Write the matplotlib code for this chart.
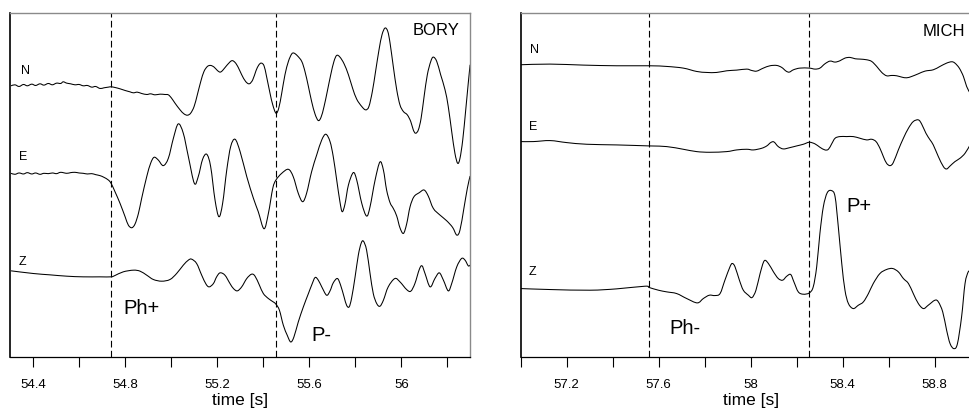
import numpy as np
import matplotlib
matplotlib.use('Agg')
import matplotlib.pyplot as plt
from matplotlib.path import Path
from matplotlib.patches import PathPatch
from matplotlib.ticker import MultipleLocator, FuncFormatter

plt.rcParams['font.family'] = ['Liberation Sans', 'DejaVu Sans']

######################################################################
## BORY station, three components (time [s], amplitude [counts])
boryNTime = [54.303, 54.320, 54.338, 54.357, 54.374, 54.393, 54.410, 54.429, 54.446, 54.465,
             54.483, 54.501, 54.519, 54.530, 54.545, 54.562, 54.581, 54.599, 54.617, 54.635,
             54.654, 54.671, 54.690, 54.707, 54.726, 54.738, 54.755, 54.777, 54.799, 54.820,
             54.835, 54.852, 54.871, 54.893, 54.910, 54.929, 54.951, 54.972, 54.987,
             55.001, 55.016, 55.038, 55.055, 55.070, 55.084, 55.099, 55.113, 55.128, 55.142,
             55.157, 55.171, 55.186, 55.200, 55.212, 55.223, 55.241, 55.262, 55.277, 55.291,
             55.306, 55.323, 55.339, 55.354, 55.368, 55.380, 55.391, 55.403, 55.414, 55.429,
             55.441, 55.455, 55.467, 55.480, 55.494, 55.509, 55.523, 55.533, 55.548, 55.567,
             55.581, 55.596, 55.610, 55.625, 55.639, 55.651, 55.664, 55.678, 55.693, 55.707,
             55.719, 55.733, 55.751, 55.770, 55.788, 55.806, 55.828, 55.845, 55.859, 55.874,
             55.888, 55.903, 55.916, 55.929, 55.941, 55.951, 55.965, 55.980, 55.994, 56.009,
             56.026, 56.041, 56.052, 56.062, 56.074, 56.086, 56.099, 56.113, 56.128, 56.139,
             56.154, 56.171, 56.190, 56.204, 56.219, 56.233, 56.245, 56.255, 56.267, 56.280,
             56.291, 56.299]
boryNAmp = [0, 3, -2, 4, 0, 5, 1, 6, 2, 7,
            3, 8, 7, 12, 8, 6, 3, 4, 0, 1,
            -4, -2, -8, -6, -4, -3, -5, -9, -14, -18,
            -21, -19, -23, -26, -24, -27, -25, -26, -27,
            -37, -52, -72, -84, -88, -82, -62, -27, 13, 43,
            58, 61, 56, 46, 41, 46, 61, 75, 70, 55,
            33, 13, 6, 18, 45, 62, 68, 60, 28, -22,
            -57, -82, -67, -22, 33, 73, 95, 98, 90, 73,
            43, -2, -47, -85, -104, -94, -62, -17, 33, 73,
            91, 86, 66, 33, -7, -40, -62, -72, -62, -17,
            43, 108, 153, 173, 163, 128, 58, -12, -57, -77,
            -87, -107, -132, -142, -132, -97, -32, 33, 73, 86,
            73, 33, -12, -62, -137, -202, -232, -217, -162, -72,
            8, 63]

boryETime = [54.303, 54.320, 54.338, 54.357, 54.374, 54.393, 54.410, 54.429, 54.446, 54.465,
             54.483, 54.501, 54.519, 54.545, 54.562, 54.581, 54.599, 54.617, 54.635, 54.654,
             54.671, 54.690, 54.707, 54.726, 54.738, 54.755, 54.777, 54.799, 54.813, 54.828,
             54.842, 54.857, 54.871, 54.893, 54.910, 54.925, 54.943, 54.965, 54.987, 55.009,
             55.030, 55.052, 55.074, 55.100, 55.117, 55.136, 55.154, 55.171, 55.190, 55.207,
             55.223, 55.241, 55.258, 55.277, 55.299, 55.328, 55.357, 55.378, 55.403, 55.422,
             55.441, 55.455, 55.480, 55.509, 55.530, 55.552, 55.571, 55.588, 55.610, 55.632,
             55.654, 55.672, 55.690, 55.704, 55.719, 55.733, 55.743, 55.755, 55.770, 55.791,
             55.806, 55.828, 55.849, 55.864, 55.886, 55.907, 55.922, 55.936, 55.951, 55.965,
             55.980, 55.994, 56.009, 56.023, 56.038, 56.055, 56.078, 56.099, 56.117, 56.139,
             56.168, 56.197, 56.223, 56.241, 56.255, 56.272, 56.287, 56.299]
boryEAmp = [0, -3, 1, -2, 2, -2, 1, -3, 0, -1,
            1, -1, 3, 0, 2, 3, 1, 0, -2, -1,
            -4, -7, -12, -20, -30, -55, -90, -130, -155, -163,
            -152, -120, -75, -10, 30, 48, 40, 23, 45, 105,
            148, 120, 50, -30, -10, 42, 57, 20, -80, -130,
            -90, 10, 80, 102, 65, -10, -75, -115, -166, -120,
            -45, -20, 0, 12, -10, -60, -85, -60, 5, 55,
            100, 117, 95, 50, -20, -85, -115, -92, -35, 2,
            -20, -90, -128, -100, -20, 34, 10, -50, -88, -105,
            -128, -163, -180, -152, -100, -70, -58, -50, -68, -105,
            -125, -142, -162, -185, -170, -105, -45, -8]

boryZTime = [54.303, 54.400, 54.472, 54.545, 54.617, 54.690, 54.738, 54.755, 54.791, 54.835,
             54.864, 54.893, 54.922, 54.958, 54.994, 55.023, 55.052, 55.074, 55.088, 55.110,
             55.132, 55.151, 55.165, 55.183, 55.197, 55.212, 55.233, 55.255, 55.270, 55.287,
             55.306, 55.328, 55.349, 55.364, 55.383, 55.400, 55.422, 55.443, 55.455, 55.470,
             55.487, 55.504, 55.519, 55.533, 55.552, 55.574, 55.596, 55.610, 55.625, 55.639,
             55.654, 55.675, 55.690, 55.704, 55.722, 55.736, 55.751, 55.762, 55.773, 55.784,
             55.799, 55.813, 55.825, 55.835, 55.849, 55.864, 55.878, 55.893, 55.907, 55.922,
             55.943, 55.972, 55.994, 56.023, 56.041, 56.059, 56.078, 56.090, 56.103, 56.125,
             56.146, 56.165, 56.183, 56.204, 56.219, 56.241, 56.262, 56.277, 56.291, 56.299]
boryZAmp = [0, -8, -12, -16, -18, -18, -18, -14, -3, 2,
            -1, -13, -26, -31, -26, -8, 17, 32, 35, 22,
            -13, -40, -48, -38, -18, -6, -13, -38, -53, -60,
            -48, -23, -10, -16, -43, -68, -83, -93, -100, -118,
            -163, -193, -213, -198, -153, -108, -68, -43, -20, -28,
            -48, -73, -60, -36, -23, -43, -78, -103, -108, -81,
            -18, 47, 82, 89, 62, -8, -68, -98, -106, -88,
            -48, -23, -33, -56, -61, -38, 4, 15, -8, -48,
            -23, -6, -28, -60, -38, 12, 37, 32, 15, 17]

######################################################################
## MICH station
michNTime = [56.997, 57.128, 57.272, 57.417, 57.559, 57.635, 57.707, 57.765, 57.809, 57.852,
             57.896, 57.939, 57.983, 58.004, 58.026, 58.055, 58.084, 58.113, 58.135, 58.154,
             58.168, 58.186, 58.214, 58.255, 58.280, 58.301, 58.323, 58.345, 58.367, 58.388,
             58.410, 58.432, 58.454, 58.475, 58.504, 58.526, 58.548, 58.570, 58.591, 58.613,
             58.635, 58.657, 58.678, 58.700, 58.729, 58.758, 58.794, 58.823, 58.852, 58.874,
             58.888, 58.907, 58.925, 58.939, 58.954]
michNAmp = [0, 2, -1, -3, -3, -5, -10, -20, -23, -23,
            -18, -16, -13, -17, -19, -10, -3, -2, -8, -19,
            -22, -15, -10, -10, -13, -10, 3, 11, 8, 12,
            20, 22, 18, 17, 15, 10, -5, -23, -33, -32,
            -33, -37, -39, -35, -27, -19, -15, -5, 5, 9,
            5, -10, -35, -65, -85]

michETime = [56.997, 57.055, 57.128, 57.200, 57.287, 57.417, 57.559, 57.635, 57.707, 57.765,
             57.823, 57.896, 57.939, 57.983, 58.012, 58.048, 58.070, 58.087, 58.101, 58.120,
             58.142, 58.171, 58.200, 58.229, 58.255, 58.280, 58.301, 58.323, 58.338, 58.352,
             58.367, 58.388, 58.417, 58.446, 58.475, 58.504, 58.526, 58.545, 58.562, 58.577,
             58.591, 58.606, 58.620, 58.642, 58.664, 58.686, 58.707, 58.729, 58.743, 58.762,
             58.780, 58.794, 58.816, 58.838, 58.852, 58.867, 58.888, 58.910, 58.932, 58.954]
michEAmp = [0, 0, 3, -3, -8, -10, -13, -15, -23, -30,
            -32, -30, -25, -23, -25, -20, -13, -3, -1, -15,
            -22, -18, -13, -8, -2, -7, -17, -25, -23, -7,
            10, 15, 15, 15, 10, 5, 7, 0, -20, -45,
            -65, -72, -63, -25, 10, 40, 60, 65, 53, 25,
            5, -10, -45, -75, -82, -73, -60, -50, -35, -10]

michZTime = [56.997, 57.128, 57.301, 57.417, 57.541, 57.559, 57.599, 57.635, 57.678, 57.722,
             57.768, 57.794, 57.820, 57.845, 57.867, 57.888, 57.910, 57.920, 57.932, 57.951,
             57.968, 57.990, 58.006, 58.023, 58.041, 58.059, 58.077, 58.099, 58.120, 58.139,
             58.157, 58.174, 58.188, 58.207, 58.229, 58.255, 58.272, 58.287, 58.301, 58.316,
             58.333, 58.352, 58.367, 58.381, 58.396, 58.410, 58.425, 58.446, 58.468, 58.490,
             58.512, 58.533, 58.562, 58.591, 58.617, 58.642, 58.664, 58.686, 58.707, 58.729,
             58.751, 58.772, 58.801, 58.816, 58.835, 58.852, 58.867, 58.884, 58.899, 58.917,
             58.932, 58.946, 58.954]
michZAmp = [0, -3, -5, -1, 7, 3, -5, -10, -15, -30,
            -43, -30, -20, -21, -15, 25, 65, 75, 65, 25,
            -5, -20, -27, -5, 45, 83, 75, 50, 30, 25,
            37, 42, 20, -10, -17, -13, 5, 65, 165, 245,
            287, 293, 275, 185, 75, -5, -45, -60, -50, -40,
            -15, 15, 45, 57, 60, 50, 30, 15, -15, -45,
            -60, -50, -35, -40, -70, -125, -165, -180, -165, -85,
            15, 50, 50]

components = ['N', 'E', 'Z']

## trace offsets (counts) so the three components stack
boryOffsets = [812, 550, 258]
michOffsets = [875, 645, 205]

## picks: first line = Ph, second = P
boryPicks = [54.738, 55.455]
michPicks = [57.560, 58.255]

######################################################################
## smooth curve through the samples (cubic Bezier, Catmull-Rom tangents)
def smoothPath(tt, yy):
    pts = np.column_stack([tt, yy]).astype(float)
    n = len(pts)
    verts = [pts[0]]
    codes = [Path.MOVETO]
    for i in range(n - 1):
        p0 = pts[max(i - 1, 0)]
        p1 = pts[i]
        p2 = pts[i + 1]
        p3 = pts[min(i + 2, n - 1)]
        c1 = p1 + (p2 - p0) / 6.0
        c2 = p2 - (p3 - p1) / 6.0
        verts += [c1, c2, p2]
        codes += [Path.CURVE4] * 3
    return Path(verts, codes)

def setupAxes(ax, tMin, tMax):
    ax.set_xlim(tMin, tMax)
    ax.set_ylim(0, 1030)
    ax.set_yticks([])
    ax.xaxis.set_major_locator(MultipleLocator(0.4))
    ax.xaxis.set_minor_locator(MultipleLocator(0.2))
    ax.xaxis.set_major_formatter(FuncFormatter(lambda v, p: '%g' % round(v, 2)))
    ax.tick_params(axis='x', which='both', direction='out', length=7, width=0.8,
                   pad=8.5, labelsize=9.5, colors='black')
    ax.spines['left'].set_linewidth(1.2)
    ax.spines['bottom'].set_linewidth(0.9)
    for side in ['top', 'right']:
        ax.spines[side].set_color('#8a8a8a')
        ax.spines[side].set_linewidth(1.0)
    ax.set_xlabel('time [s]', fontsize=12.5, labelpad=1.5)

def drawTraces(ax, traces, offsets, picks):
    for (tt, aa), off in zip(traces, offsets):
        path = smoothPath(tt, off + np.array(aa))
        ax.add_patch(PathPatch(path, facecolor='none', edgecolor='black', lw=0.75))
    for p in picks:
        ax.axvline(p, color='black', lw=0.8, linestyle=(0, (6, 3)))

fig = plt.figure(figsize=(9.7, 4.09), dpi=100)

ax1 = fig.add_axes([10.33 / 970, 52 / 409, 460 / 970, 344 / 409])
setupAxes(ax1, 54.3, 56.3)
drawTraces(ax1, [(boryNTime, boryNAmp), (boryETime, boryEAmp), (boryZTime, boryZAmp)],
           boryOffsets, boryPicks)
for name, (t, y) in zip(components, [(54.345, 857), (54.338, 599), (54.338, 284)]):
    ax1.text(t, y, name, fontsize=9, va='center', ha='left')
ax1.text(56.051, 977, 'BORY', fontsize=12, va='center', ha='left')
ax1.text(54.791, 145, 'Ph+', fontsize=14.5, va='center', ha='left')
ax1.text(55.610, 65, 'P-', fontsize=14.5, va='center', ha='left')

ax2 = fig.add_axes([520.67 / 970, 52 / 409, 460 / 970, 344 / 409])
setupAxes(ax2, 57.0, 59.0)
drawTraces(ax2, [(michNTime, michNAmp), (michETime, michEAmp), (michZTime, michZAmp)],
           michOffsets, michPicks)
for name, (t, y) in zip(components, [(57.041, 920), (57.038, 690), (57.033, 255)]):
    ax2.text(t, y, name, fontsize=9, va='center', ha='left')
ax2.text(58.748, 975, 'MICH', fontsize=12, va='center', ha='left')
ax2.text(57.646, 85, 'Ph-', fontsize=14.5, va='center', ha='left')
ax2.text(58.414, 450, 'P+', fontsize=14.5, va='center', ha='left')

fig.savefig('out.png', dpi=100)
